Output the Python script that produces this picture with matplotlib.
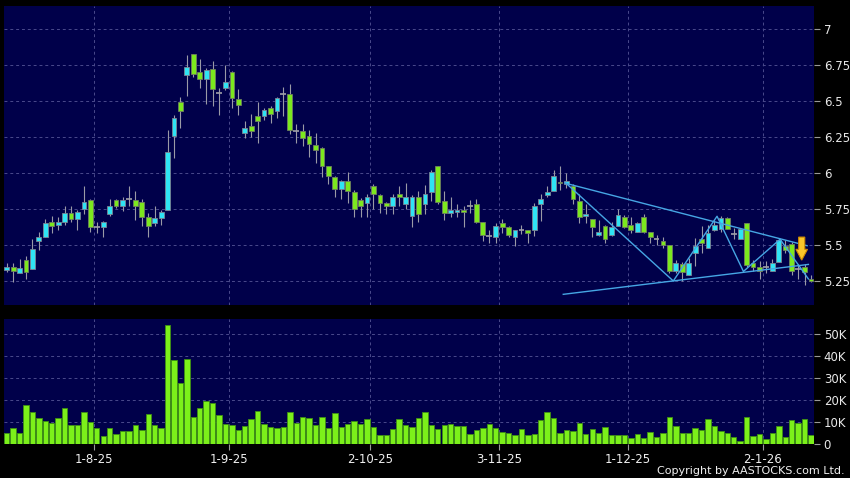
import matplotlib.pyplot as plt
import numpy as np
from matplotlib.patches import FancyArrow
from matplotlib.ticker import FuncFormatter

# daily OHLC (one bar per trading day, mid-Jul 2025 .. mid-Jan 2026)
opens = [5.327, 5.350, 5.304, 5.397, 5.332, 5.531, 5.559, 5.659, 5.638, 5.661,
         5.721, 5.680, 5.750, 5.814, 5.624, 5.624, 5.714, 5.814, 5.772, 5.819,
         5.814, 5.798, 5.698, 5.652, 5.691, 5.744, 6.260, 6.497, 6.680, 6.826,
         6.701, 6.653, 6.722, 6.555, 6.595, 6.706, 6.518, 6.277, 6.331, 6.400,
         6.400, 6.456, 6.433, 6.549, 6.549, 6.296, 6.296, 6.259, 6.196, 6.173,
         6.046, 5.976, 5.888, 5.948, 5.872, 5.814, 5.791, 5.907, 5.849, 5.795,
         5.768, 5.856, 5.786, 5.703, 5.832, 5.784, 5.872, 6.050, 5.809, 5.721,
         5.728, 5.740, 5.768, 5.784, 5.659, 5.564, 5.554, 5.652, 5.622, 5.559,
         5.601, 5.601, 5.606, 5.784, 5.849, 5.877, 5.941, 5.925, 5.911, 5.809,
         5.703, 5.680, 5.571, 5.629, 5.571, 5.631, 5.698, 5.636, 5.589, 5.698,
         5.589, 5.541, 5.531, 5.497, 5.321, 5.369, 5.293, 5.443, 5.541, 5.478,
         5.605, 5.612, 5.691, 5.577, 5.541, 5.652, 5.374, 5.350, 5.346, 5.320,
         5.381, 5.494, 5.508, 5.332, 5.350, 5.265]
highs = [5.374, 5.374, 5.404, 5.425, 5.541, 5.589, 5.680, 5.703, 5.698, 5.772,
         5.772, 5.744, 5.907, 5.819, 5.663, 5.668, 5.819, 5.819, 5.837, 5.907,
         5.879, 5.819, 5.721, 5.768, 5.744, 6.300, 6.404, 6.532, 6.822, 6.826,
         6.794, 6.729, 6.780, 6.590, 6.750, 6.710, 6.583, 6.363, 6.412, 6.497,
         6.450, 6.470, 6.532, 6.597, 6.618, 6.342, 6.342, 6.300, 6.277, 6.180,
         6.050, 5.980, 5.950, 6.011, 5.880, 5.830, 5.856, 5.925, 5.856, 5.800,
         5.856, 5.911, 5.930, 5.849, 5.879, 5.914, 6.022, 6.050, 5.879, 5.832,
         5.786, 5.768, 5.814, 5.819, 5.660, 5.606, 5.652, 5.682, 5.630, 5.601,
         5.640, 5.606, 5.791, 5.856, 5.907, 6.022, 6.050, 6.000, 5.925, 5.856,
         5.786, 5.680, 5.675, 5.640, 5.663, 5.750, 5.710, 5.698, 5.660, 5.717,
         5.590, 5.571, 5.559, 5.500, 5.397, 5.380, 5.408, 5.547, 5.629, 5.640,
         5.675, 5.703, 5.695, 5.617, 5.615, 5.655, 5.397, 5.392, 5.392, 5.400,
         5.545, 5.536, 5.524, 5.369, 5.369, 5.293]
lows = [5.311, 5.246, 5.304, 5.263, 5.332, 5.466, 5.559, 5.582, 5.601, 5.638,
        5.661, 5.601, 5.717, 5.587, 5.582, 5.554, 5.703, 5.756, 5.733, 5.768,
        5.675, 5.629, 5.554, 5.629, 5.638, 5.744, 6.105, 6.317, 6.539, 6.667,
        6.595, 6.479, 6.470, 6.405, 6.580, 6.456, 6.405, 6.243, 6.250, 6.208,
        6.370, 6.347, 6.386, 6.400, 6.270, 6.208, 6.185, 6.110, 6.069, 5.976,
        5.925, 5.832, 5.819, 5.795, 5.698, 5.698, 5.698, 5.750, 5.726, 5.714,
        5.714, 5.768, 5.750, 5.624, 5.659, 5.714, 5.809, 5.786, 5.675, 5.698,
        5.698, 5.622, 5.721, 5.652, 5.531, 5.513, 5.517, 5.582, 5.554, 5.490,
        5.580, 5.517, 5.564, 5.670, 5.837, 5.877, 5.883, 5.895, 5.786, 5.652,
        5.652, 5.554, 5.560, 5.517, 5.560, 5.631, 5.620, 5.582, 5.589, 5.582,
        5.517, 5.501, 5.478, 5.304, 5.304, 5.253, 5.290, 5.355, 5.443, 5.478,
        5.600, 5.587, 5.610, 5.541, 5.540, 5.350, 5.316, 5.263, 5.304, 5.318,
        5.380, 5.443, 5.293, 5.263, 5.223, 5.246]
closes = [5.350, 5.316, 5.339, 5.311, 5.471, 5.554, 5.652, 5.631, 5.659, 5.721,
          5.680, 5.728, 5.798, 5.624, 5.624, 5.659, 5.768, 5.772, 5.814, 5.819,
          5.768, 5.693, 5.629, 5.691, 5.728, 6.150, 6.381, 6.435, 6.741, 6.687,
          6.653, 6.718, 6.583, 6.555, 6.632, 6.521, 6.472, 6.312, 6.296, 6.365,
          6.437, 6.412, 6.521, 6.549, 6.300, 6.296, 6.243, 6.201, 6.161, 6.050,
          5.981, 5.888, 5.948, 5.876, 5.750, 5.772, 5.837, 5.856, 5.795, 5.768,
          5.837, 5.832, 5.837, 5.832, 5.717, 5.853, 6.011, 5.798, 5.721, 5.740,
          5.740, 5.728, 5.768, 5.659, 5.571, 5.564, 5.629, 5.624, 5.571, 5.601,
          5.601, 5.582, 5.772, 5.819, 5.872, 5.981, 5.930, 5.948, 5.819, 5.698,
          5.717, 5.624, 5.589, 5.541, 5.622, 5.709, 5.624, 5.606, 5.656, 5.589,
          5.554, 5.541, 5.501, 5.321, 5.374, 5.311, 5.374, 5.494, 5.513, 5.582,
          5.640, 5.691, 5.612, 5.577, 5.612, 5.362, 5.344, 5.316, 5.346, 5.374,
          5.536, 5.462, 5.320, 5.332, 5.311, 5.250]
# volume in shares
volumes = [4700, 7000, 5000, 17600, 14200, 11500, 10300, 9200, 11700, 16100,
           8500, 8300, 14400, 9800, 7100, 3500, 7300, 4500, 5900, 5800,
           8300, 6400, 13600, 8500, 7100, 53900, 38000, 27400, 38600, 12300,
           16100, 19200, 18500, 13000, 8900, 8500, 6400, 8000, 11400, 14800,
           8800, 7600, 7000, 7400, 14400, 9500, 12000, 11700, 8500, 12000,
           7300, 14100, 7700, 8900, 10500, 9100, 11400, 7700, 3800, 3900,
           6700, 11100, 8300, 7700, 11500, 14300, 8300, 6700, 8500, 8800,
           8000, 8000, 4400, 6200, 7000, 8900, 7000, 5500, 4700, 4100,
           6700, 3900, 4400, 10800, 14200, 11700, 5000, 6100, 5800, 9500,
           4400, 6500, 5000, 7400, 3900, 3900, 3900, 2600, 4200, 2400,
           5500, 2900, 5000, 12000, 8200, 5000, 5000, 7100, 6400, 11200,
           8000, 5900, 4700, 3200, 1400, 12000, 3300, 4200, 2000, 4700,
           8000, 3000, 10800, 9500, 11100, 3800]

# first bar of each month shown on the axis, and its label
month_start_idx = [14, 35, 57, 77, 97, 118]
month_labels = ['1-8-25', '1-9-25', '2-10-25', '3-11-25', '1-12-25', '2-1-26']

price_ticks = [5.25, 5.5, 5.75, 6, 6.25, 6.5, 6.75, 7]
volume_ticks = [0, 10000, 20000, 30000, 40000, 50000]

# pattern lines drawn on the chart
upper_line_x = [86.8, 124.4]
upper_line_y = [5.93, 5.495]
lower_line_x = [86.5, 124.6]
lower_line_y = [5.157, 5.365]
zigzag_x = [86.8, 103.6, 110.4, 114.5, 120.2, 124.6]
zigzag_y = [5.935, 5.25, 5.70, 5.316, 5.54, 5.264]
arrow_x, arrow_top, arrow_tip = 123.56, 5.555, 5.395

BG = '#00004a'
UP = '#2fe4f4'
DOWN = '#7ce81e'
GRID = '#4a4a8c'

o = np.array(opens)
h = np.array(highs)
l = np.array(lows)
c = np.array(closes)
x = np.arange(len(o))

fig = plt.figure(figsize=(8.5, 4.78), dpi=100, facecolor='black')
ax = fig.add_axes([4 / 850, 1 - 305 / 478, 810 / 850, 299 / 478], facecolor=BG)
axv = fig.add_axes([4 / 850, 1 - 443.7 / 478, 810 / 850, 124.7 / 478], facecolor=BG)

grid_x = [i - 0.5 for i in month_start_idx]

for a in (ax, axv):
    a.set_xlim(-0.42, 125.47)
    for s in a.spines.values():
        s.set_visible(False)
    a.yaxis.tick_right()
    a.tick_params(axis='y', colors='#9a9a9a', labelcolor='#e8e8e8', length=4,
                  width=0.8, pad=3, labelsize=8.5)
    a.set_axisbelow(True)
    for gx in grid_x:
        a.axvline(gx, color=GRID, lw=0.7, ls=(0, (3, 3)), zorder=0)

# price panel
ax.set_ylim(5.0828, 7.162)
ax.set_yticks(price_ticks)
ax.set_yticklabels(['5.25', '5.5', '5.75', '6', '6.25', '6.5', '6.75', '7'])
ax.set_xticks([])
for py in price_ticks:
    ax.axhline(py, color=GRID, lw=0.7, ls=(0, (3, 3)), zorder=0)

ax.vlines(x, l, h, color='#9a9aa6', lw=0.8, zorder=2)
up = c > o
down = c < o
doji = c == o
ax.bar(x[up], (c - o)[up], bottom=o[up], width=0.74, color=UP,
       edgecolor='#7a8494', linewidth=0.6, zorder=3)
ax.bar(x[down], (o - c)[down], bottom=c[down], width=0.74, color=DOWN,
       edgecolor='#6f7f60', linewidth=0.6, zorder=3)
ax.hlines(c[doji], x[doji] - 0.45, x[doji] + 0.45, color='#a0a0a8', lw=1.2, zorder=3)

# pattern lines + arrow
ax.plot(upper_line_x, upper_line_y, color='#46a6e4', lw=1, zorder=4)
ax.plot(lower_line_x, lower_line_y, color='#46a6e4', lw=1, zorder=4)
ax.plot(zigzag_x, zigzag_y, color='#46a6e4', lw=1, zorder=4)
ax.add_patch(FancyArrow(arrow_x, arrow_top, 0, arrow_tip - arrow_top, width=0.95,
                        head_width=1.8, head_length=0.075, length_includes_head=True,
                        fc='#fbc62a', ec='#d08a00', lw=0.8, zorder=5))

# volume panel
axv.set_ylim(0, 56700)
axv.set_yticks(volume_ticks)
axv.yaxis.set_major_formatter(FuncFormatter(lambda v, p: '0' if v == 0 else f'{int(v / 1000)}K'))
for vy in volume_ticks[1:]:
    axv.axhline(vy, color=GRID, lw=0.7, ls=(0, (3, 3)), zorder=0)
axv.bar(x, volumes, width=0.84, color='#7cf01a', edgecolor='#3f9014', linewidth=0.6, zorder=3)
axv.set_xticks(grid_x)
axv.set_xticklabels(month_labels)
axv.tick_params(axis='x', colors='#9a9a9a', labelcolor='#f0f0f0', length=4,
                width=0.8, pad=3, labelsize=8.5)

fig.text(845 / 850, 1 - 476 / 478, 'Copyright by AASTOCKS.com Ltd.', ha='right',
         va='bottom', color='#f0f0f0', fontsize=8)

fig.savefig('out.png', dpi=100, facecolor='black')
